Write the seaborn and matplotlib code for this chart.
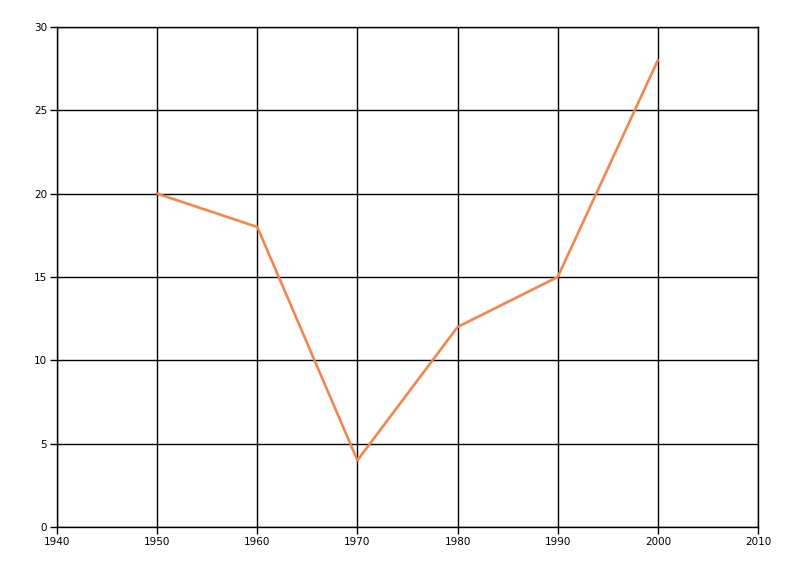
import matplotlib
matplotlib.use("Agg")
import matplotlib.pyplot as plt
import seaborn as sns
import pandas as pd

years = [1950, 1960, 1970, 1980, 1990, 2000]
values = [20, 18, 4, 12, 15, 28]
x_ticks = [1940, 1950, 1960, 1970, 1980, 1990, 2000, 2010]
y_ticks = [0, 5, 10, 15, 20, 25, 30]

sns.set_style("white")
plt.rcParams['font.family'] = ['DejaVu Sans']

df = pd.DataFrame({"year": years, "value": values})

fig = plt.figure(figsize=(8, 5.76), dpi=100)
ax = fig.add_axes([0.07125, 0.0851, 0.87625, 0.8681])
sns.lineplot(data=df, x="year", y="value", ax=ax, color="#FF7F40", linewidth=1.8)

ax.set_xlim(1940, 2010)
ax.set_ylim(0, 30)
ax.set_xticks(x_ticks)
ax.set_yticks(y_ticks)
ax.set_xlabel("")
ax.set_ylabel("")
ax.grid(True, color="black", linewidth=1)
ax.set_axisbelow(True)
for s in ["left", "bottom", "top", "right"]:
    ax.spines[s].set_visible(True)
    ax.spines[s].set_color("black")
    ax.spines[s].set_linewidth(1)
ax.tick_params(axis="both", which="major", direction="out", length=5, width=1,
               color="black", labelsize=7.5, labelcolor="black", pad=2, left=True, bottom=True)

fig.savefig("out.png", dpi=100, facecolor="white")
